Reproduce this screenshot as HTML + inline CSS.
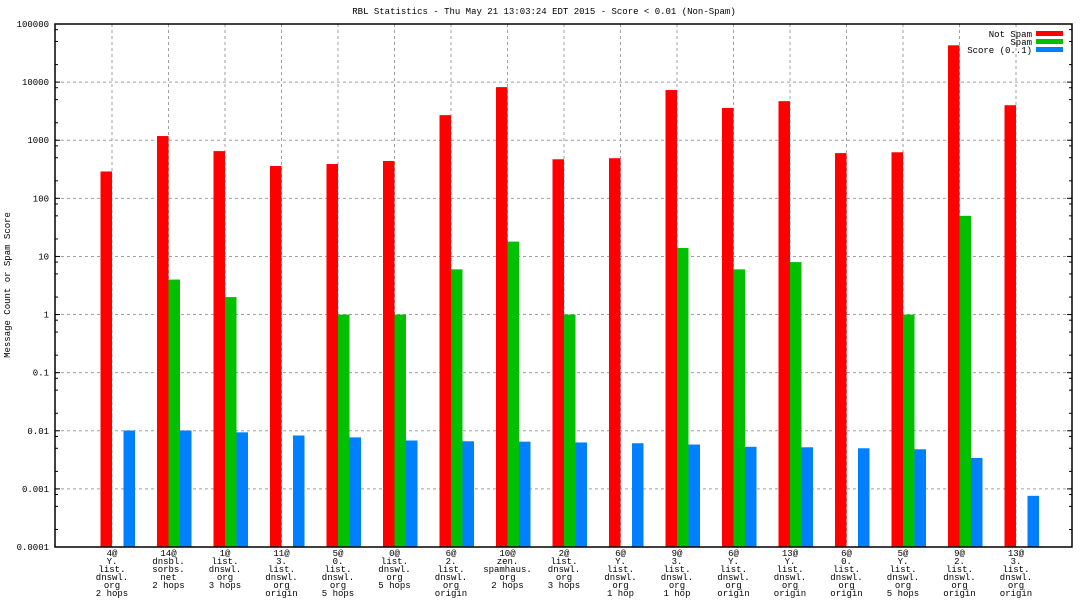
<!DOCTYPE html>
<html><head><meta charset="utf-8"><style>
body{margin:0;background:#fff}
svg{display:block;font-family:"Liberation Mono",monospace;font-size:9px}
</style></head><body>
<svg id="c" width="1088" height="612" viewBox="0 0 1088 612"></svg>
<script>
const categories=[
["4@","Y.","list.","dnswl.","org","2 hops"],["14@","dnsbl.","sorbs.","net","2 hops"],["1@","list.","dnswl.","org","3 hops"],
["11@","3.","list.","dnswl.","org","origin"],["5@","0.","list.","dnswl.","org","5 hops"],["0@","list.","dnswl.","org","5 hops"],
["6@","2.","list.","dnswl.","org","origin"],["10@","zen.","spamhaus.","org","2 hops"],["2@","list.","dnswl.","org","3 hops"],
["6@","Y.","list.","dnswl.","org","1 hop"],["9@","3.","list.","dnswl.","org","1 hop"],["6@","Y.","list.","dnswl.","org","origin"],
["13@","Y.","list.","dnswl.","org","origin"],["6@","0.","list.","dnswl.","org","origin"],["5@","Y.","list.","dnswl.","org","5 hops"],
["9@","2.","list.","dnswl.","org","origin"],["13@","3.","list.","dnswl.","org","origin"]];
const notSpam=[290,1180,650,360,390,440,2700,8200,470,490,7300,3600,4700,600,620,43000,4000];
const spam=[0,4,2,0,1,1,6,18,1,0,14,6,8,0,1,50,0];
const score=[0.0101,0.0101,0.0094,0.0083,0.0077,0.0068,0.0066,0.0065,0.0063,0.0061,0.0058,0.0053,0.0052,0.0050,0.0048,0.0034,0.00076];
const yTicks=["0.0001","0.001","0.01","0.1","1","10","100","1000","10000","100000"];
const series=[{name:"Not Spam",v:notSpam,c:"#ff0000"},{name:"Spam",v:spam,c:"#00c000"},{name:"Score (0..1)",v:score,c:"#0080ff"}];
const L=55,R=1072,T=24,B=547;
const y=v=>B-(Math.log10(v)+4)*(B-T)/9;
const xc=i=>112+i*56.5;
const svg=document.getElementById('c');
function el(t,a,txt){const e=document.createElementNS("http://www.w3.org/2000/svg",t);for(const k in a)e.setAttribute(k,a[k]);if(txt!=null)e.textContent=txt;svg.appendChild(e);return e;}
let e=el("text",{x:544,y:14,"text-anchor":"middle"},"RBL Statistics - Thu May 21 13:03:24 EDT 2015 - Score < 0.01 (Non-Spam)");


e=el("text",{transform:"translate(10,285) rotate(-90)","text-anchor":"middle"},"Message Count or Spam Score");


yTicks.forEach(t=>{const yy=y(parseFloat(t));
 if(yy>T+1&&yy<B-1){e=el("line",{x1:L,x2:R,y1:yy,y2:yy,stroke:"#a0a0a0","stroke-dasharray":"3,3"});
 
 }
 e=el("text",{x:L-6,y:yy+3,"text-anchor":"end"},t);
 
 
 el("line",{x1:L,x2:L+5,y1:yy,y2:yy,stroke:"#000"});el("line",{x1:R,x2:R-5,y1:yy,y2:yy,stroke:"#000"});
 [2,5,8].forEach(m=>{const v=parseFloat(t)*m;if(v<1e5){const my=y(v);el("line",{x1:L,x2:L+3,y1:my,y2:my,stroke:"#000"});el("line",{x1:R,x2:R-3,y1:my,y2:my,stroke:"#000"});}});
});
categories.forEach((c,i)=>{const x=xc(i);
 e=el("line",{x1:x,x2:x,y1:T,y2:B,stroke:"#a0a0a0","stroke-dasharray":"3,3"});
 
 
 c.forEach((ln,k)=>{e=el("text",{x:x,y:556+k*8,"text-anchor":"middle"},ln);
  
  });
 series.forEach((s,j)=>{const v=s.v[i];if(v>0){const yy=y(v);
  e=el("rect",{x:x-11.5+j*11.5,y:yy,width:11.5,height:B-yy,fill:s.c});
  
  }});
});
e=el("rect",{x:L,y:T,width:R-L,height:B-T,fill:"none",stroke:"#000","stroke-width":1.5});


series.forEach((s,j)=>{
 e=el("text",{x:1032,y:37+j*8,"text-anchor":"end"},s.name);
 
 
 e=el("rect",{x:1036,y:31+j*8,width:27,height:5,fill:s.c});
 
 
});
</script>
</body></html>
